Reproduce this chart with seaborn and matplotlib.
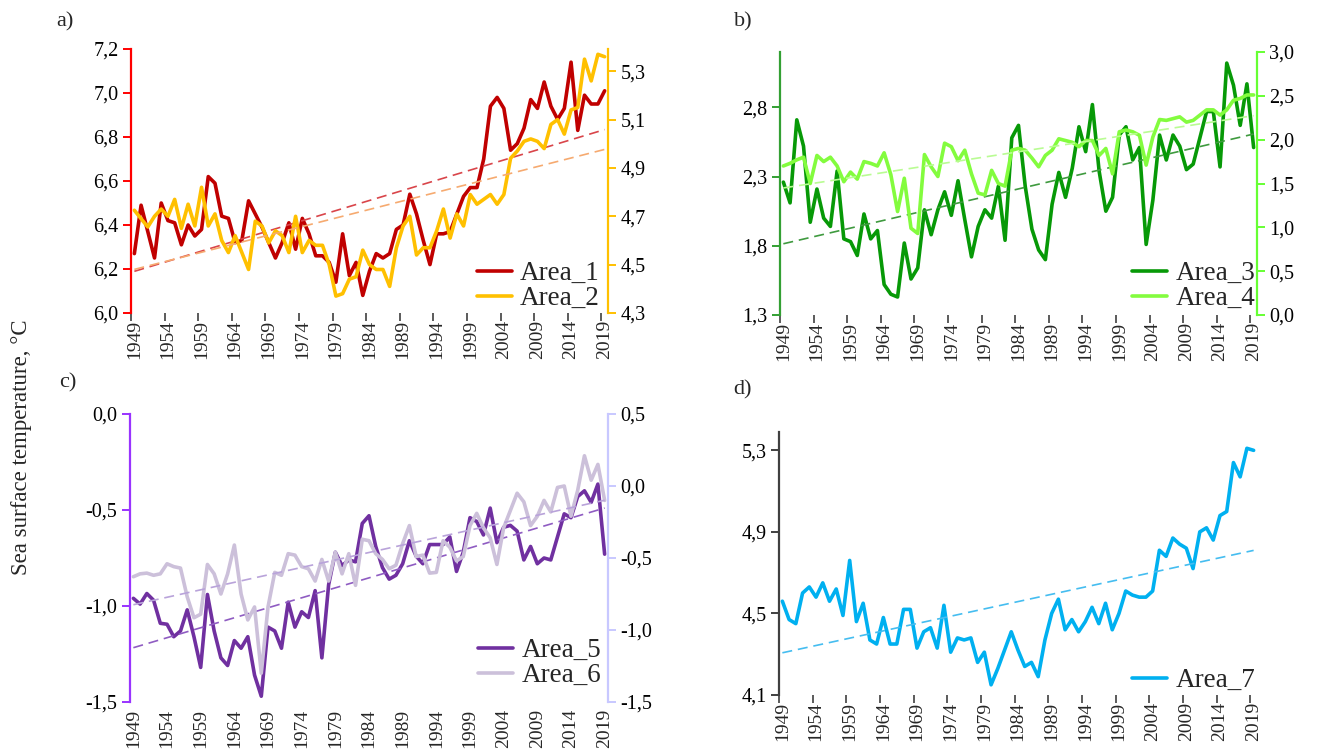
import numpy as np
import matplotlib
matplotlib.use("Agg")
import matplotlib.pyplot as plt
from matplotlib.ticker import FuncFormatter, FixedLocator
import seaborn as sns

# ---- data: annual mean sea surface temperature, 1949-2019 ----
years = list(range(1949, 2020))
year_labels = list(range(1949, 2020, 5))

area_1 = [6.27, 6.49, 6.37, 6.25, 6.50, 6.42, 6.41, 6.31, 6.40, 6.35,
          6.38, 6.62, 6.59, 6.44, 6.43, 6.32, 6.33, 6.51, 6.45, 6.39,
          6.32, 6.25, 6.32, 6.41, 6.29, 6.43, 6.36, 6.26, 6.26, 6.23,
          6.14, 6.36, 6.17, 6.23, 6.08, 6.19, 6.27, 6.25, 6.27, 6.38,
          6.40, 6.54, 6.45, 6.33, 6.22, 6.36, 6.36, 6.37, 6.45, 6.53,
          6.57, 6.57, 6.70, 6.94, 6.98, 6.93, 6.74, 6.77, 6.84, 6.97,
          6.93, 7.05, 6.94, 6.88, 6.93, 7.14, 6.83, 6.99, 6.95, 6.95,
          7.01]
area_2 = [4.725, 4.69, 4.656, 4.70, 4.73, 4.70, 4.77, 4.65, 4.75, 4.66,
          4.82, 4.66, 4.71, 4.60, 4.55, 4.62, 4.55, 4.48, 4.68, 4.66,
          4.59, 4.64, 4.62, 4.55, 4.70, 4.55, 4.60, 4.58, 4.58, 4.50,
          4.37, 4.38, 4.44, 4.45, 4.56, 4.50, 4.48, 4.48, 4.41, 4.57,
          4.66, 4.70, 4.54, 4.57, 4.57, 4.64, 4.73, 4.61, 4.71, 4.66,
          4.79, 4.75, 4.77, 4.79, 4.75, 4.79, 4.94, 4.97, 5.01, 5.02,
          5.01, 4.98, 5.08, 5.10, 5.04, 5.14, 5.15, 5.35, 5.26, 5.37,
          5.36]
area_3 = [2.26, 2.11, 2.71, 2.52, 1.97, 2.21, 2.00, 1.94, 2.34, 1.85,
          1.83, 1.73, 2.03, 1.85, 1.91, 1.52, 1.45, 1.43, 1.82, 1.56,
          1.64, 2.06, 1.88, 2.06, 2.19, 2.02, 2.27, 1.99, 1.72, 1.94,
          2.06, 2.00, 2.23, 1.84, 2.58, 2.67, 2.23, 1.92, 1.77, 1.70,
          2.10, 2.33, 2.15, 2.36, 2.66, 2.48, 2.82, 2.34, 2.05, 2.15,
          2.60, 2.66, 2.42, 2.51, 1.81, 2.13, 2.60, 2.42, 2.60, 2.52,
          2.35, 2.39, 2.58, 2.77, 2.77, 2.37, 3.12, 2.96, 2.67, 2.97,
          2.51]
area_4 = [1.70, 1.73, 1.77, 1.80, 1.50, 1.82, 1.75, 1.80, 1.70, 1.52,
          1.63, 1.55, 1.75, 1.73, 1.70, 1.85, 1.60, 1.18, 1.56, 0.99,
          0.93, 1.83, 1.69, 1.58, 1.96, 1.92, 1.76, 1.88, 1.61, 1.39,
          1.37, 1.65, 1.50, 1.47, 1.88, 1.90, 1.88, 1.79, 1.69, 1.82,
          1.88, 2.01, 1.99, 1.97, 1.92, 1.99, 1.99, 1.82, 1.90, 1.61,
          2.09, 2.11, 2.09, 2.05, 1.71, 2.03, 2.23, 2.22, 2.24, 2.26,
          2.20, 2.22, 2.28, 2.34, 2.34, 2.28, 2.34, 2.45, 2.47, 2.51,
          2.51]
area_5 = [-0.96, -0.99, -0.935, -0.97, -1.09, -1.095, -1.16, -1.13, -1.02, -1.16,
          -1.32, -0.94, -1.13, -1.27, -1.31, -1.18, -1.22, -1.16, -1.36, -1.47,
          -1.11, -1.13, -1.22, -0.98, -1.11, -1.03, -1.06, -0.92, -1.27, -0.89,
          -0.72, -0.79, -0.76, -0.77, -0.57, -0.53, -0.69, -0.80, -0.86, -0.84,
          -0.78, -0.66, -0.74, -0.78, -0.68, -0.68, -0.68, -0.64, -0.82, -0.72,
          -0.54, -0.56, -0.63, -0.49, -0.67, -0.59, -0.58, -0.61, -0.76, -0.69,
          -0.78, -0.75, -0.76, -0.64, -0.52, -0.54, -0.43, -0.40, -0.46, -0.365,
          -0.73]
area_6 = [-0.63, -0.61, -0.605, -0.62, -0.61, -0.54, -0.56, -0.57, -0.77, -0.915,
          -0.89, -0.545, -0.61, -0.75, -0.61, -0.41, -0.75, -0.93, -0.84, -1.30,
          -0.84, -0.60, -0.62, -0.47, -0.48, -0.56, -0.575, -0.66, -0.51, -0.66,
          -0.46, -0.61, -0.47, -0.69, -0.37, -0.38, -0.47, -0.51, -0.575, -0.55,
          -0.40, -0.275, -0.49, -0.48, -0.605, -0.60, -0.38, -0.425, -0.52, -0.49,
          -0.275, -0.19, -0.29, -0.36, -0.545, -0.29, -0.17, -0.05, -0.11, -0.275,
          -0.21, -0.10, -0.18, -0.01, 0.00, -0.21, -0.03, 0.21, 0.04, 0.15,
          -0.10]
area_7 = [4.56, 4.47, 4.45, 4.60, 4.63, 4.58, 4.65, 4.56, 4.62, 4.49,
          4.76, 4.46, 4.55, 4.37, 4.35, 4.48, 4.35, 4.35, 4.52, 4.52,
          4.33, 4.41, 4.43, 4.33, 4.54, 4.31, 4.38, 4.37, 4.38, 4.26,
          4.31, 4.15, 4.23, 4.32, 4.41, 4.32, 4.24, 4.26, 4.19, 4.37,
          4.50, 4.57, 4.42, 4.47, 4.41, 4.46, 4.53, 4.45, 4.55, 4.42,
          4.50, 4.61, 4.59, 4.58, 4.58, 4.61, 4.81, 4.78, 4.87, 4.84,
          4.82, 4.72, 4.90, 4.92, 4.86, 4.98, 5.00, 5.24, 5.17, 5.31,
          5.30]

sns.set_theme(style="white")
plt.rcParams["font.family"] = ["Liberation Serif", "DejaVu Serif"]
plt.rcParams["axes.linewidth"] = 1.2

W, H = 1322, 756
fig = plt.figure(figsize=(W / 100, H / 100), dpi=100)


def px_rect(left, top, right, bottom):
    return [left / W, 1 - bottom / H, (right - left) / W, (bottom - top) / H]


def comma(v, _pos=None):
    s = f"{v:.1f}".replace(".", ",")
    return "0,0" if s == "-0,0" else s


def style_y(ax, side, color, ticks, lim):
    ax.set_ylim(*lim)
    ax.yaxis.set_major_locator(FixedLocator(ticks))
    ax.yaxis.set_major_formatter(FuncFormatter(comma))
    ax.spines[side].set_visible(True)
    ax.spines[side].set_color(color)
    ax.spines[side].set_linewidth(1.6)
    ax.tick_params(axis="y", which="major", direction="out", length=6, width=1.4,
                   color=color, labelcolor="black", labelsize=14.5, pad=3,
                   left=(side == "left"), right=(side == "right"),
                   labelleft=(side == "left"), labelright=(side == "right"))
    ax.set_ylabel("")


def style_x(ax, show_axis=True):
    ax.set_xlim(1948.5, 2019.5)
    ax.xaxis.set_major_locator(FixedLocator(year_labels))
    ax.xaxis.set_minor_locator(FixedLocator(np.arange(1948.5, 2019, 5)))
    ax.tick_params(axis="x", which="major", length=0, labelsize=14,
                   labelrotation=90, pad=5, bottom=True, labelbottom=True)
    ax.set_xlabel("")
    if show_axis:
        ax.spines["bottom"].set_color("#404040")
        ax.spines["bottom"].set_linewidth(1.3)
        ax.tick_params(axis="x", which="minor", direction="out", length=6,
                       width=1.2, color="#404040", bottom=True)
    else:
        ax.spines["bottom"].set_visible(False)
        ax.tick_params(axis="x", which="minor", length=0)


def draw(ax, values, color, trend_color, name):
    sns.lineplot(x=years, y=values, ax=ax, color=color, lw=2.6, label=name,
                 legend=False)
    sns.regplot(x=years, y=values, ax=ax, scatter=False, ci=None, truncate=True,
                color=trend_color, label="_nolegend_",
                line_kws=dict(lw=1.2, dashes=(6, 3.5)))
    return ax.get_lines()[0]


def add_legend(ax, handles, names, x_px, y_px):
    ax.legend(handles, names, loc="lower right",
              bbox_to_anchor=(x_px / W, 1 - y_px / H),
              bbox_transform=fig.transFigure, frameon=False, fontsize=19.5,
              borderpad=0, borderaxespad=0, handlelength=1.3,
              handletextpad=0.3, labelspacing=0.0)


def make_panel(rect, has_twin):
    ax = fig.add_axes(rect)
    for s in ax.spines.values():
        s.set_visible(False)
    ax2 = None
    if has_twin:
        ax2 = ax.twinx()
        for s in ax2.spines.values():
            s.set_visible(False)
    return ax, ax2


# ---- a) Area_1 / Area_2 ----
ax_a, ax_a2 = make_panel(px_rect(131, 49, 608, 313), True)
h1 = draw(ax_a, area_1, "#c00000", "#d9454a", "Area_1")
h2 = draw(ax_a2, area_2, "#ffc000", "#f6aa70", "Area_2")
style_x(ax_a)
style_y(ax_a, "left", "#ff0000", np.arange(6.0, 7.21, 0.2), (6.0, 7.2))
style_y(ax_a2, "right", "#ffc000", np.arange(4.3, 5.31, 0.2), (4.3, 5.392))
add_legend(ax_a2, [h1, h2], ["Area_1", "Area_2"], 600, 311)

# ---- b) Area_3 / Area_4 ----
ax_b, ax_b2 = make_panel(px_rect(780, 52, 1257, 315), True)
h3 = draw(ax_b, area_3, "#079907", "#3f9a3f", "Area_3")
h4 = draw(ax_b2, area_4, "#83fc3e", "#b9fc93", "Area_4")
style_x(ax_b)
style_y(ax_b, "left", "#33a033", [1.3, 1.8, 2.3, 2.8], (1.3, 3.2))
style_y(ax_b2, "right", "#66ff33", np.arange(0.0, 3.01, 0.5), (0.0, 3.0))
add_legend(ax_b2, [h3, h4], ["Area_3", "Area_4"], 1255, 311)

# ---- c) Area_5 / Area_6 ----
ax_c, ax_c2 = make_panel(px_rect(130, 414, 608, 702), True)
h5 = draw(ax_c, area_5, "#7030a0", "#8f5cc2", "Area_5")
h6 = draw(ax_c2, area_6, "#ccc0da", "#b9a3da", "Area_6")
style_x(ax_c, show_axis=False)
style_y(ax_c, "left", "#9933ff", [-1.5, -1.0, -0.5, 0.0], (-1.5, 0.0))
style_y(ax_c2, "right", "#c8c8ff", [-1.5, -1.0, -0.5, 0.0, 0.5], (-1.5, 0.5))
add_legend(ax_c2, [h5, h6], ["Area_5", "Area_6"], 601, 688)

# ---- d) Area_7 ----
ax_d, _ = make_panel(px_rect(779, 432, 1257, 695), False)
h7 = draw(ax_d, area_7, "#00b0f0", "#45bdf0", "Area_7")
style_x(ax_d)
style_y(ax_d, "left", "#404040", [4.1, 4.5, 4.9, 5.3], (4.1, 5.39))
add_legend(ax_d, [h7], ["Area_7"], 1255, 693)

# ---- panel letters and shared axis title ----
for letter, (x, y) in {"a)": (65, 22), "b)": (743, 22),
                       "c)": (68, 383), "d)": (742, 390)}.items():
    fig.text(x / W, 1 - y / H, letter, ha="center", va="center", fontsize=16)

fig.text(22 / W, 1 - 447 / H, "Sea surface temperature, °C", rotation=90,
         ha="center", va="center", fontsize=16.5)

fig.savefig("out.png", dpi=100)
